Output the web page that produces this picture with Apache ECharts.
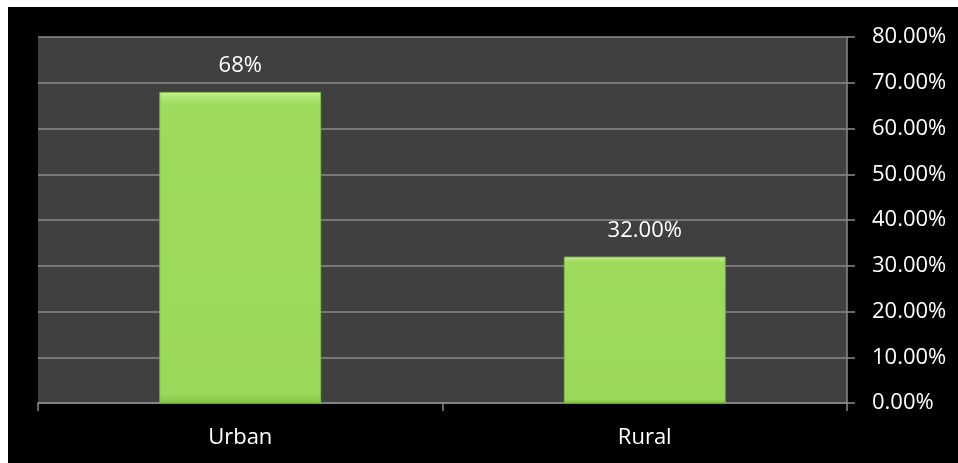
<!DOCTYPE html>
<html>
<head>
<meta charset="utf-8">
<script src="https://cdn.jsdelivr.net/npm/echarts@6/dist/echarts.min.js"></script>
<style>
html,body{margin:0;padding:0;background:#ffffff;width:958px;height:463px;overflow:hidden;}
#chart{position:absolute;left:8px;top:7px;width:950px;height:456px;background:#000;}
</style>
</head>
<body>
<div id="chart"></div>
<script>
const categories = ['Urban', 'Rural'];
const values = [68, 32];
const valueLabels = ['68%', '32.00%'];
const yMin = 0, yMax = 80, yStep = 10;

const chart = echarts.init(document.getElementById('chart'), null, {renderer: 'canvas'});
const font = '"Open Sans", "Noto Sans", sans-serif';
const barGradient = new echarts.graphic.LinearGradient(0, 0, 0, 1, [
  {offset: 0, color: '#d2f59a'},
  {offset: 0.015, color: '#b3e877'},
  {offset: 0.04, color: '#9edb5c'},
  {offset: 0.97, color: '#9bd95a'},
  {offset: 1, color: '#86c449'}
]);
chart.setOption({
  backgroundColor: '#000000',
  animation: false,
  grid: {left: 30, right: 111, top: 30, bottom: 60, show: true, backgroundColor: '#404040', borderWidth: 0},
  xAxis: {
    type: 'category',
    data: categories,
    axisLine: {show: true, lineStyle: {color: '#8a8a8a', width: 1.5}},
    axisTick: {show: true, length: 8, alignWithLabel: false, lineStyle: {color: '#8a8a8a', width: 1.5}},
    axisLabel: {color: '#ffffff', fontSize: 22, fontFamily: font, margin: 24}
  },
  yAxis: {
    type: 'value',
    position: 'right',
    min: yMin, max: yMax, interval: yStep,
    axisLine: {show: true, lineStyle: {color: '#8a8a8a', width: 1.5}},
    axisTick: {show: true, length: 8, lineStyle: {color: '#8a8a8a', width: 1.5}},
    splitLine: {show: true, lineStyle: {color: '#8a8a8a', width: 1.5}},
    axisLabel: {color: '#ffffff', fontSize: 22, fontFamily: font, margin: 25,
      formatter: v => v.toFixed(2) + '%'}
  },
  series: [{
    type: 'bar',
    data: values.map((v, i) => ({value: v, label: {formatter: valueLabels[i]}})),
    barWidth: '40%',
    itemStyle: {color: barGradient, borderColor: '#7fbf44', borderWidth: 1},
    label: {show: true, position: 'top', distance: 15, color: '#ffffff', fontSize: 22, fontFamily: font}
  }]
});
</script>
</body>
</html>
